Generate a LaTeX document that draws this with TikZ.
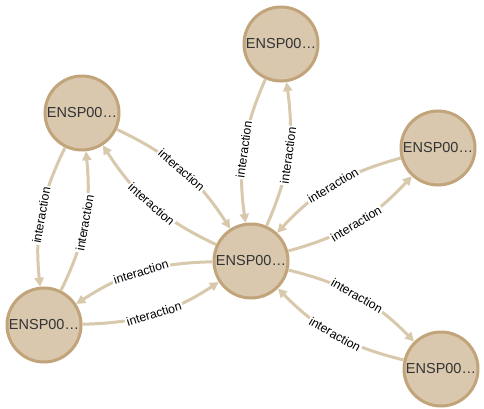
\documentclass[tikz,border=0pt]{standalone}
\usepackage{fontspec}
\setmainfont{Liberation Sans}
\usetikzlibrary{arrows.meta}
\definecolor{protfill}{HTML}{D9C8AE}
\definecolor{protline}{HTML}{C1A47A}
\definecolor{reledge}{HTML}{D8C8AC}
\definecolor{prottext}{HTML}{333333}

\begin{document}
\begin{tikzpicture}[x=1pt,y=1pt,
  prot/.style={circle, draw=protline, fill=protfill, line width=3pt,
    minimum size=74pt, inner sep=0pt, text=prottext,
    font=\fontsize{14.5}{17}\selectfont},
  rel/.style={draw=reledge, line width=3pt, -{Triangle[length=9pt,width=9pt]}},
  lbl/.style={sloped, fill=white, inner sep=1.5pt, text=black,
    font=\fontsize{12.3}{14}\selectfont}]
\useasboundingbox (0,0) rectangle (484,408);
% proteins
\node[prot] (ctr) at (251,147) {ENSP00…};
\node[prot] (top) at (281,364) {ENSP00…};
\node[prot] (right) at (438,260) {ENSP00…};
\node[prot] (lowright) at (441,39) {ENSP00…};
\node[prot] (upleft) at (82,295) {ENSP00…};
\node[prot] (lowleft) at (44,83) {ENSP00…};
% interactions
\begin{scope}[on background layer/.try]
\draw[rel] (top) to[bend right=16] node[lbl] {interaction} (ctr);
\draw[rel] (ctr) to[bend right=16] node[lbl] {interaction} (top);
\draw[rel] (upleft) to[bend left=16] node[lbl] {interaction} (ctr);
\draw[rel] (ctr) to[bend left=16] node[lbl] {interaction} (upleft);
\draw[rel] (right) to[bend right=16] node[lbl] {interaction} (ctr);
\draw[rel] (ctr) to[bend right=16] node[lbl] {interaction} (right);
\draw[rel] (ctr) to[bend left=16] node[lbl] {interaction} (lowright);
\draw[rel] (lowright) to[bend left=16] node[lbl] {interaction} (ctr);
\draw[rel] (ctr) to[bend right=16] node[lbl] {interaction} (lowleft);
\draw[rel] (lowleft) to[bend right=16] node[lbl] {interaction} (ctr);
\draw[rel] (upleft) to[bend right=16] node[lbl] {interaction} (lowleft);
\draw[rel] (lowleft) to[bend right=16] node[lbl] {interaction} (upleft);
\end{scope}
\end{tikzpicture}
\end{document}
